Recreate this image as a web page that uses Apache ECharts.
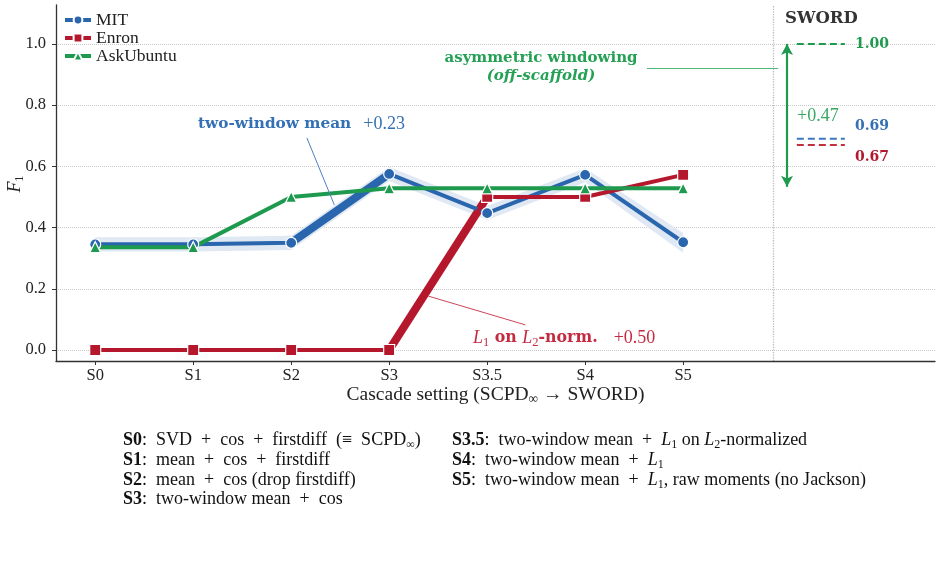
<!DOCTYPE html>
<html>
<head>
<meta charset="utf-8">
<script src="https://cdn.jsdelivr.net/npm/echarts@6/dist/echarts.min.js"></script>
<style>
html,body{margin:0;padding:0;background:#fff;}
#chart{width:942px;height:564px;}
</style>
</head>
<body>
<div id="chart"></div>
<script>
// cascade settings on the x axis
var settings = ['S0', 'S1', 'S2', 'S3', 'S3.5', 'S4', 'S5'];
var settingPos = [0, 1, 2, 3, 4, 5, 6];
// F1 per setting
var mitF1 = [0.345, 0.345, 0.350, 0.575, 0.447, 0.572, 0.352];
var mitLow = [0.322, 0.322, 0.327, 0.552, 0.425, 0.548, 0.318];
var mitHigh = [0.368, 0.368, 0.373, 0.598, 0.470, 0.594, 0.382];
var enronF1 = [0.0, 0.0, 0.0, 0.0, 0.500, 0.500, 0.572];
var askF1 = [0.336, 0.336, 0.500, 0.528, 0.528, 0.528, 0.528];
// SWORD reference scores
var swordMit = 0.69;
var swordEnron = 0.67;
var swordAsk = 1.00;
var yTicks = [0, 0.2, 0.4, 0.6, 0.8, 1.0];

var BLUE = '#2a66ae', RED = '#b5172d', GREEN = '#1e9a4f';
var FONT = 'Liberation Serif';
var BFONT = 'DejaVu Serif';

function pts(vals, from, to) {
    var out = [];
    for (var i = from; i <= to; i++) out.push([settingPos[i], vals[i]]);
    return out;
}

var myChart = echarts.init(document.getElementById('chart'));

var option = {
    animation: false,
    textStyle: {fontFamily: FONT},
    grid: {left: 56, right: 7, top: 5, bottom: 203, outerBoundsMode: 'none', containLabel: false},
    legend: {
        data: ['MIT', 'Enron', 'AskUbuntu'],
        orient: 'vertical',
        left: 58, top: 6,
        itemGap: 0, itemWidth: 26, itemHeight: 11,
        lineStyle: {width: 4},
        textStyle: {fontFamily: FONT, fontSize: 17.5, color: '#222', lineHeight: 18}
    },
    xAxis: {
        type: 'value', min: -0.4, max: 8.57,
        name: 'Cascade setting (SCPD{s|∞} → SWORD)',
        nameLocation: 'middle', nameGap: 23, nameMoveOverlap: false,
        nameTextStyle: {fontFamily: FONT, fontSize: 19.5, color: '#222', lineHeight: 22,
            rich: {s: {fontSize: 13.5, verticalAlign: 'bottom', fontFamily: FONT, color: '#222'}}},
        axisLine: {onZero: false, lineStyle: {color: '#333', width: 1.3}},
        axisTick: {customValues: settingPos, length: 4, lineStyle: {color: '#333'}},
        axisLabel: {customValues: settingPos, margin: 6, fontSize: 16.5, color: '#222', fontFamily: FONT,
            formatter: function (v) { return settings[Math.round(v)]; }},
        splitLine: {show: false}
    },
    yAxis: {
        type: 'value', min: -0.036, max: 1.127,
        axisLine: {show: true, onZero: false, lineStyle: {color: '#333', width: 1.3}},
        axisTick: {show: true, customValues: yTicks, length: 4, lineStyle: {color: '#333'}},
        axisLabel: {customValues: yTicks, margin: 10, fontSize: 16.5, color: '#222', fontFamily: FONT,
            formatter: function (v) { return v.toFixed(1); }},
        splitLine: {show: false}
    },
    series: [
        // grid lines + separator
        {
            type: 'line', data: [], silent: true, z: 0,
            markLine: {
                z: 0, silent: true, symbol: 'none', label: {show: false}, animation: false,
                lineStyle: {color: '#c8c8c8', type: 'dotted', width: 1},
                data: yTicks.map(function (t) { return {yAxis: t}; }).concat([
                    {xAxis: 6.92, lineStyle: {color: '#bbbbbb', type: 'dotted', width: 1.3}}
                ])
            }
        },
        // MIT uncertainty band
        {
            type: 'custom', data: [[0, 0]], silent: true, z: 1,
            encode: {x: 0, y: 1},
            renderItem: function (params, api) {
                var up = settingPos.map(function (x, i) { return api.coord([x, mitHigh[i]]); });
                var dn = settingPos.map(function (x, i) { return api.coord([x, mitLow[i]]); }).reverse();
                return {type: 'polygon', shape: {points: up.concat(dn)}, style: {fill: '#dfe8f3'}};
            }
        },
        {
            type: 'line', name: 'mitStep', data: pts(mitF1, 2, 3), symbol: 'none',
            lineStyle: {color: BLUE, width: 8}, z: 2, silent: true
        },
        {
            type: 'line', name: 'enronStep', data: pts(enronF1, 3, 4), symbol: 'none',
            lineStyle: {color: RED, width: 8}, z: 2, silent: true
        },
        {
            type: 'line', name: 'MIT', data: pts(mitF1, 0, 6), color: BLUE,
            symbol: 'circle', symbolSize: 11,
            lineStyle: {width: 4}, itemStyle: {color: BLUE, borderColor: '#fff', borderWidth: 1.2}, z: 3
        },
        {
            type: 'line', name: 'Enron', data: pts(enronF1, 0, 6), color: RED,
            symbol: 'rect', symbolSize: 11,
            lineStyle: {width: 4}, itemStyle: {color: RED, borderColor: '#fff', borderWidth: 1.2}, z: 3
        },
        {
            type: 'line', name: 'AskUbuntu', data: pts(askF1, 0, 6), color: GREEN,
            symbol: 'triangle', symbolSize: 11,
            lineStyle: {width: 4}, itemStyle: {color: GREEN, borderColor: '#fff', borderWidth: 1.2}, z: 3
        },
        // SWORD reference dashes
        {type: 'line', data: [[7.16, swordAsk], [7.65, swordAsk]], symbol: 'none', silent: true, z: 3,
            lineStyle: {color: GREEN, width: 2, type: [7, 4]}},
        {type: 'line', data: [[7.16, swordMit], [7.65, swordMit]], symbol: 'none', silent: true, z: 3,
            lineStyle: {color: '#3d78c0', width: 2, type: [7, 4]}},
        {type: 'line', data: [[7.16, swordEnron], [7.65, swordEnron]], symbol: 'none', silent: true, z: 3,
            lineStyle: {color: '#c23040', width: 2, type: [7, 4]}},
        // arrow + leader lines
        {
            type: 'line', data: [], silent: true, z: 3,
            markLine: {
                silent: true, label: {show: false}, animation: false, symbol: 'none',
                data: [
                    [{coord: [7.06, askF1[6] + 0.005], symbol: 'arrow', symbolSize: [9, 11]},
                     {coord: [7.06, swordAsk], symbol: 'arrow', symbolSize: [9, 11],
                      lineStyle: {color: GREEN, width: 2.2, type: 'solid'}}],
                    [{coord: [5.63, 0.92]}, {coord: [6.97, 0.92], lineStyle: {color: '#4fb574', width: 1, type: 'solid'}}],
                    [{coord: [2.16, 0.693]}, {coord: [2.44, 0.474], lineStyle: {color: '#4a7fc0', width: 1, type: 'solid'}}],
                    [{coord: [3.40, 0.176]}, {coord: [4.39, 0.082], lineStyle: {color: '#cc4457', width: 1, type: 'solid'}}]
                ]
            }
        }
    ],
    graphic: []
};

function txt(x, y, text, rich, align) {
    return {
        type: 'text', x: x, y: y, silent: true, z: 100,
        style: {text: text, rich: rich, align: align || 'left', verticalAlign: 'middle',
            fontFamily: FONT, fontSize: 16, fill: '#222', lineHeight: 22}
    };
}

function rset(color, bsize) {
    return {
        b: {fontFamily: BFONT, fontSize: bsize || 15.3, fontWeight: 'bold', fill: color},
        bi: {fontFamily: BFONT, fontSize: bsize || 15.3, fontWeight: 'bold', fontStyle: 'italic', fill: color},
        n: {fontFamily: FONT, fontSize: 18, fill: color},
        i: {fontFamily: FONT, fontSize: 18, fontStyle: 'italic', fill: color},
        s: {fontFamily: FONT, fontSize: 12.5, verticalAlign: 'bottom', fill: color}
    };
}

var leg = {
    b: {fontFamily: FONT, fontSize: 18, fontWeight: 'bold', fill: '#111'},
    n: {fontFamily: FONT, fontSize: 18, fill: '#111'},
    i: {fontFamily: FONT, fontSize: 18, fontStyle: 'italic', fill: '#111'},
    s: {fontFamily: FONT, fontSize: 12, verticalAlign: 'bottom', fill: '#111'}
};

// y-axis title F_1, rotated
var yTitle = txt(15, 184, '{i|F}{s|1}', rset('#222'), 'center');
yTitle.rotation = Math.PI / 2;

option.graphic = [
    yTitle,
    txt(198, 124, '{b|two-window mean}   {n|+0.23}', rset('#3470b5')),
    txt(541, 58, '{b|asymmetric windowing}', rset('#25a055', 15), 'center'),
    txt(541, 76, '{bi|(off-scaffold)}', rset('#25a055', 15), 'center'),
    txt(473, 338, '{i|L}{s|1}{b| on }{i|L}{s|2}{b|-norm.}    {n|+0.50}', rset('#c42a40', 15.8)),
    txt(785, 19, '{b|SWORD}', rset('#333', 16.5)),
    txt(855, 44, '{b|1.00}', rset(GREEN, 14)),
    txt(855, 126, '{b|0.69}', rset('#3470b5', 14)),
    txt(855, 157, '{b|0.67}', rset('#b5172d', 14)),
    txt(797, 116, '{n|+0.47}', rset('#3aa864')),
    txt(123, 440, '{b|S0}{n|:  SVD  +  cos  +  firstdiff  (≡  SCPD}{s|∞}{n|)}', leg),
    txt(123, 460, '{b|S1}{n|:  mean  +  cos  +  firstdiff}', leg),
    txt(123, 480, '{b|S2}{n|:  mean  +  cos (drop firstdiff)}', leg),
    txt(123, 499, '{b|S3}{n|:  two-window mean  +  cos}', leg),
    txt(452, 440, '{b|S3.5}{n|:  two-window mean  +  }{i|L}{s|1}{n| on }{i|L}{s|2}{n|-normalized}', leg),
    txt(452, 460, '{b|S4}{n|:  two-window mean  +  }{i|L}{s|1}', leg),
    txt(452, 480, '{b|S5}{n|:  two-window mean  +  }{i|L}{s|1}{n|, raw moments (no Jackson)}', leg)
];

myChart.setOption(option);
window.addEventListener('resize', function () {
    myChart.resize();
});
</script>
</body>
</html>
